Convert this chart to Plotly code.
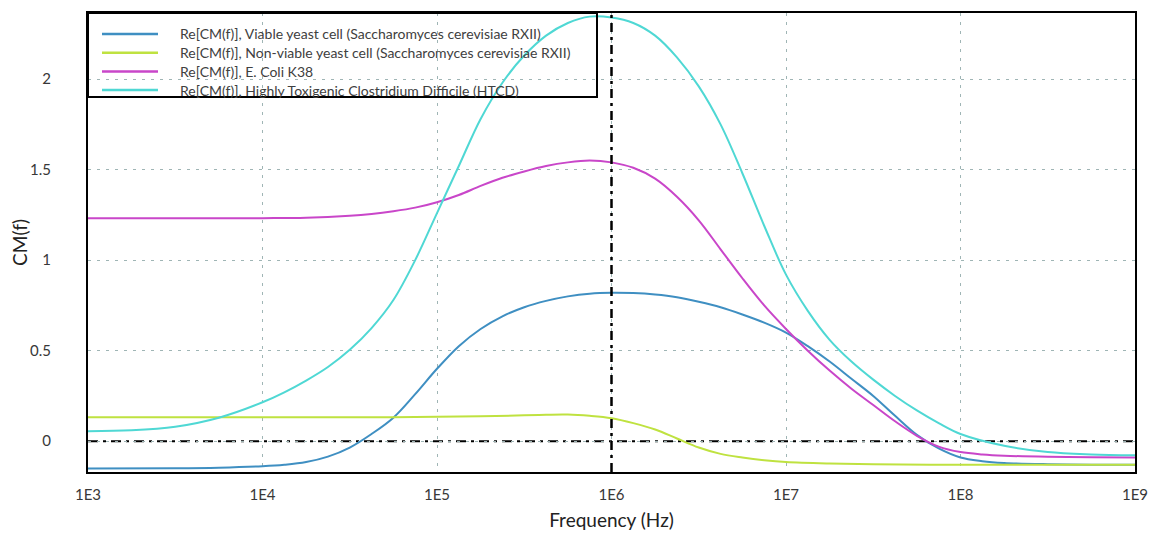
import plotly.graph_objects as go

# ---- data (log10 of frequency in Hz, CM value) ----
viable_logf = [3.0, 3.5, 3.75, 4.0, 4.125, 4.25, 4.375, 4.5, 4.625, 4.75, 4.875, 5.0, 5.125, 5.25,
               5.375, 5.5, 5.625, 5.75, 5.875, 6.0, 6.125, 6.25, 6.375, 6.5, 6.625, 6.75, 6.875,
               7.0, 7.125, 7.25, 7.375, 7.5, 7.625, 7.75, 7.875, 8.0, 8.125, 8.25, 8.5, 8.75, 9.0]
viable_yeast = [-0.15, -0.149, -0.146, -0.138, -0.13, -0.115, -0.085, -0.035, 0.04, 0.13, 0.26, 0.40,
                0.525, 0.62, 0.69, 0.74, 0.775, 0.80, 0.815, 0.82, 0.818, 0.81, 0.795, 0.77, 0.74, 0.70,
                0.655, 0.60, 0.525, 0.44, 0.345, 0.25, 0.14, 0.035, -0.04, -0.09, -0.11, -0.12,
                -0.127, -0.13, -0.13]

nonviable_logf = [3.0, 3.5, 4.0, 4.5, 4.75, 5.0, 5.25, 5.5, 5.625, 5.75, 5.875, 6.0, 6.125, 6.25,
                  6.375, 6.5, 6.625, 6.75, 6.875, 7.0, 7.25, 7.5, 8.0, 8.5, 9.0]
nonviable_yeast = [0.133, 0.133, 0.133, 0.133, 0.133, 0.135, 0.138, 0.143, 0.146, 0.147, 0.14, 0.127,
                   0.10, 0.065, 0.015, -0.035, -0.07, -0.09, -0.105, -0.115, -0.123, -0.127, -0.13,
                   -0.13, -0.13]

ecoli_logf = [3.0, 3.5, 4.0, 4.25, 4.5, 4.625, 4.75, 4.875, 5.0, 5.125, 5.25, 5.375, 5.5, 5.625,
              5.75, 5.875, 6.0, 6.125, 6.25, 6.375, 6.5, 6.625, 6.75, 6.875, 7.0, 7.125, 7.25,
              7.375, 7.5, 7.625, 7.75, 7.875, 8.0, 8.125, 8.25, 8.5, 8.75, 9.0]
ecoli = [1.232, 1.232, 1.232, 1.234, 1.245, 1.255, 1.27, 1.29, 1.32, 1.36, 1.41, 1.455, 1.49, 1.52,
         1.54, 1.55, 1.54, 1.51, 1.45, 1.35, 1.22, 1.06, 0.90, 0.75, 0.62, 0.50, 0.39, 0.29, 0.20,
         0.11, 0.03, -0.03, -0.06, -0.073, -0.08, -0.086, -0.089, -0.09]

htcd_logf = [3.0, 3.25, 3.5, 3.75, 4.0, 4.125, 4.25, 4.375, 4.5, 4.625, 4.75, 4.875, 5.0, 5.125,
             5.25, 5.375, 5.5, 5.625, 5.75, 5.875, 6.0, 6.125, 6.25, 6.375, 6.5, 6.625, 6.75,
             6.875, 7.0, 7.125, 7.25, 7.375, 7.5, 7.625, 7.75, 7.875, 8.0, 8.25, 8.5, 8.75, 9.0]
htcd = [0.055, 0.06, 0.08, 0.13, 0.215, 0.27, 0.335, 0.41, 0.505, 0.625, 0.78, 1.0, 1.26, 1.52, 1.78,
        1.98, 2.13, 2.24, 2.31, 2.345, 2.34, 2.31, 2.24, 2.12, 1.96, 1.75, 1.48, 1.19, 0.92, 0.72,
        0.56, 0.44, 0.34, 0.25, 0.17, 0.10, 0.04, -0.025, -0.06, -0.073, -0.078]

names = [
    "Re[CM(f)], Viable yeast cell (Saccharomyces cerevisiae RXII)",
    "Re[CM(f)], Non-viable yeast cell (Saccharomyces cerevisiae RXII)",
    "Re[CM(f)], E. Coli K38",
    "Re[CM(f)], Highly Toxigenic Clostridium Difficile (HTCD)",
]
colors = ["#3f8fc2", "#bfe240", "#c946c9", "#4fd8d4"]
series = [(viable_logf, viable_yeast), (nonviable_logf, nonviable_yeast),
          (ecoli_logf, ecoli), (htcd_logf, htcd)]

x_tickvals = [1e3, 1e4, 1e5, 1e6, 1e7, 1e8, 1e9]
x_ticktext = ["1E3", "1E4", "1E5", "1E6", "1E7", "1E8", "1E9"]
y_tickvals = [0, 0.5, 1, 1.5, 2]
y_ticktext = ["0", "0.5", "1", "1.5", "2"]

FONT = "Lato, Open Sans, sans-serif"

fig = go.Figure()
for name, col, (lf, ys) in zip(names, colors, series):
    fig.add_trace(go.Scatter(x=[10 ** v for v in lf], y=ys, mode="lines", name=name,
                             showlegend=False,
                             line=dict(color=col, width=2, shape="spline", smoothing=1.0)))

# reference dash-dot lines
fig.add_shape(type="line", xref="paper", x0=0, x1=1, yref="y", y0=0, y1=0,
              line=dict(color="black", width=2, dash="10px,5px,3px,5px"), layer="below")
fig.add_shape(type="line", xref="x", x0=1e6, x1=1e6, yref="paper", y0=0, y1=1,
              line=dict(color="black", width=2.5, dash="9px,5px,3px,5px"), layer="above")

# legend box (frame + line samples + labels), positioned in plot-area fractions
PLOT_W, PLOT_H = 1047.0, 459.0
fig.add_shape(type="rect", xref="paper", yref="paper", x0=0, x1=509 / PLOT_W,
              y0=1 - 84 / PLOT_H, y1=1,
              line=dict(color="black", width=2), fillcolor="rgba(0,0,0,0)", layer="above")
for i, (name, col) in enumerate(zip(names, colors)):
    yy = 1 - (21 + i * 18.7) / PLOT_H
    fig.add_shape(type="line", xref="paper", yref="paper", x0=14 / PLOT_W, x1=70 / PLOT_W,
                  y0=yy, y1=yy, line=dict(color=col, width=2.5), layer="above")
    fig.add_annotation(xref="paper", yref="paper", x=90 / PLOT_W, y=yy, text=name,
                       showarrow=False, xanchor="left", yanchor="middle",
                       font=dict(family=FONT, size=14, color="#404040"))

# page body adds an 8px offset; margins compensate so the plot area sits at 88..1135 x 13..472
fig.update_layout(
    width=1162, height=537,
    margin=dict(l=80, r=35, t=5, b=73),
    paper_bgcolor="white", plot_bgcolor="white",
    font=dict(family=FONT, color="#333333"),
    showlegend=False,
)
fig.update_xaxes(type="log", range=[3, 9], tickvals=x_tickvals, ticktext=x_ticktext,
                 showgrid=True, gridcolor="#9fb5b5", griddash="3px,6px", gridwidth=1,
                 showline=True, linecolor="black", linewidth=2, mirror=True,
                 ticks="", ticklabelstandoff=8, zeroline=False, automargin=False,
                 tickfont=dict(size=15, family=FONT, color="#383838"),
                 title=dict(text="Frequency (Hz)", font=dict(size=19, family=FONT, color="#222222"),
                            standoff=12))
fig.update_yaxes(range=[-0.17, 2.365], tickvals=y_tickvals, ticktext=y_ticktext,
                 showgrid=True, gridcolor="#9fb5b5", griddash="3px,6px", gridwidth=1,
                 showline=True, linecolor="black", linewidth=2, mirror=True,
                 ticks="", ticklabelstandoff=32, zeroline=False, automargin=False,
                 tickfont=dict(size=15, family=FONT, color="#383838"),
                 title=dict(text="CM(f)", font=dict(size=19, family=FONT, color="#222222"),
                            standoff=0))

fig.write_html("out.html")
